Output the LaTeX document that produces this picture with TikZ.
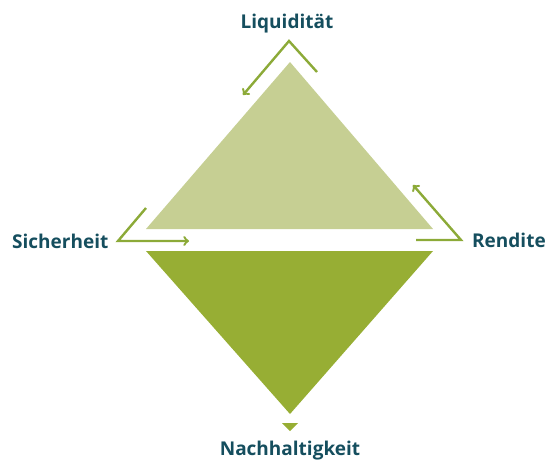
\documentclass[tikz,border=0pt]{standalone}
\usepackage{fontspec}
\setmainfont{Open Sans}
\definecolor{labeltext}{HTML}{154E5E}
\definecolor{arrowgreen}{HTML}{8CAA38}
\definecolor{lightolive}{HTML}{C6CF93}
\definecolor{darkolive}{HTML}{97AE34}
\tikzset{
  goal/.style={text=labeltext, inner sep=0pt, font=\bfseries\fontsize{19}{22}\selectfont},
  turn/.style={draw=arrowgreen, line width=2.4pt, line join=miter, ->}
}
\begin{document}
\begin{tikzpicture}[x=1pt,y=-1pt]
        \useasboundingbox (0, 0) rectangle (547, 461);

        % upper and lower triangle
        \fill[lightolive] (290, 62) -- (433, 229) -- (146, 229) -- cycle;
        \fill[darkolive] (146, 251) -- (433, 251) -- (290, 414) -- cycle;
        \fill[darkolive] (282, 423) -- (298, 423) -- (290, 431) -- cycle;

        \node[goal] (liq) at (287, 24) {Liquidität};
        \node[goal, anchor=west] (sich) at (12, 241) {Sicherheit};
        \node[goal, anchor=west] (rend) at (472, 240) {Rendite};
        \node[goal, anchor=south] (nach) at (290, 460) {Nachhaltigkeit};

        \coordinate (liqstart) at (317, 72);
        \coordinate (liqtop) at (289, 41);
        \coordinate (liqend) at (243, 95);
        \coordinate (sichstart) at (146, 208);
        \coordinate (sichcorner) at (118, 241);
        \coordinate (sichend) at (189, 241);
        \coordinate (rendstart) at (416, 240);
        \coordinate (rendcorner) at (461, 240);
        \coordinate (rendend) at (413, 185);

        \draw[turn] (liqstart) -- (liqtop) -- (liqend);
        \draw[turn] (sichstart) -- (sichcorner) -- (sichend);
        \draw[turn] (rendstart) -- (rendcorner) -- (rendend);

    \end{tikzpicture}
\end{document}
